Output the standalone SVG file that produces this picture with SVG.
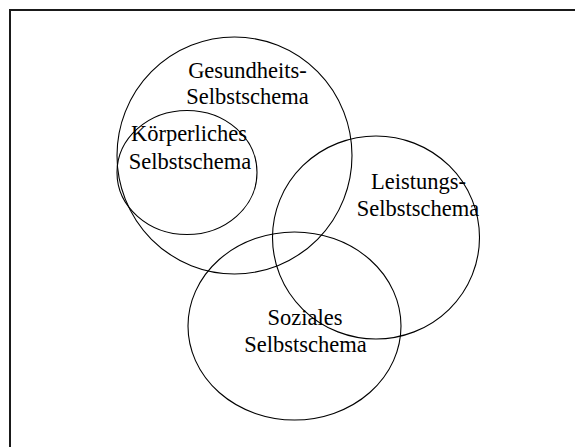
<svg xmlns="http://www.w3.org/2000/svg" width="575" height="447" viewBox="0 0 575 447">
<style>
.set{fill:none;stroke:#000;stroke-width:1.1}
.lbl{font-family:"Liberation Serif","Times New Roman",serif;font-size:22.5px;fill:#000;text-anchor:middle}
</style>
<rect x="0" y="0" width="575" height="447" fill="#fff"/>
<rect id="frame" x="10" y="10" width="600" height="480" fill="none" stroke="#1a1a1a" stroke-width="2"/>
<g id="gesundheit">
<ellipse class="set" cx="234.5" cy="155.5" rx="117.5" ry="118.5"/>
<text class="lbl" x="247.5" y="78">Gesundheits-</text>
<text class="lbl" x="247.5" y="104">Selbstschema</text>
</g>
<g id="koerper">
<ellipse class="set" cx="187" cy="172.5" rx="70" ry="62"/>
<text class="lbl" x="189" y="141">Körperliches</text>
<text class="lbl" x="190" y="169">Selbstschema</text>
</g>
<g id="leistung">
<ellipse class="set" cx="376" cy="237.5" rx="103.5" ry="101.5"/>
<text class="lbl" x="418.5" y="188.5">Leistungs-</text>
<text class="lbl" x="418" y="215.5">Selbstschema</text>
</g>
<g id="sozial">
<ellipse class="set" cx="294.5" cy="326" rx="106.5" ry="94"/>
<text class="lbl" x="305" y="324.5">Soziales</text>
<text class="lbl" x="305.5" y="351.5">Selbstschema</text>
</g>
<g id="connectors"/>
</svg>
